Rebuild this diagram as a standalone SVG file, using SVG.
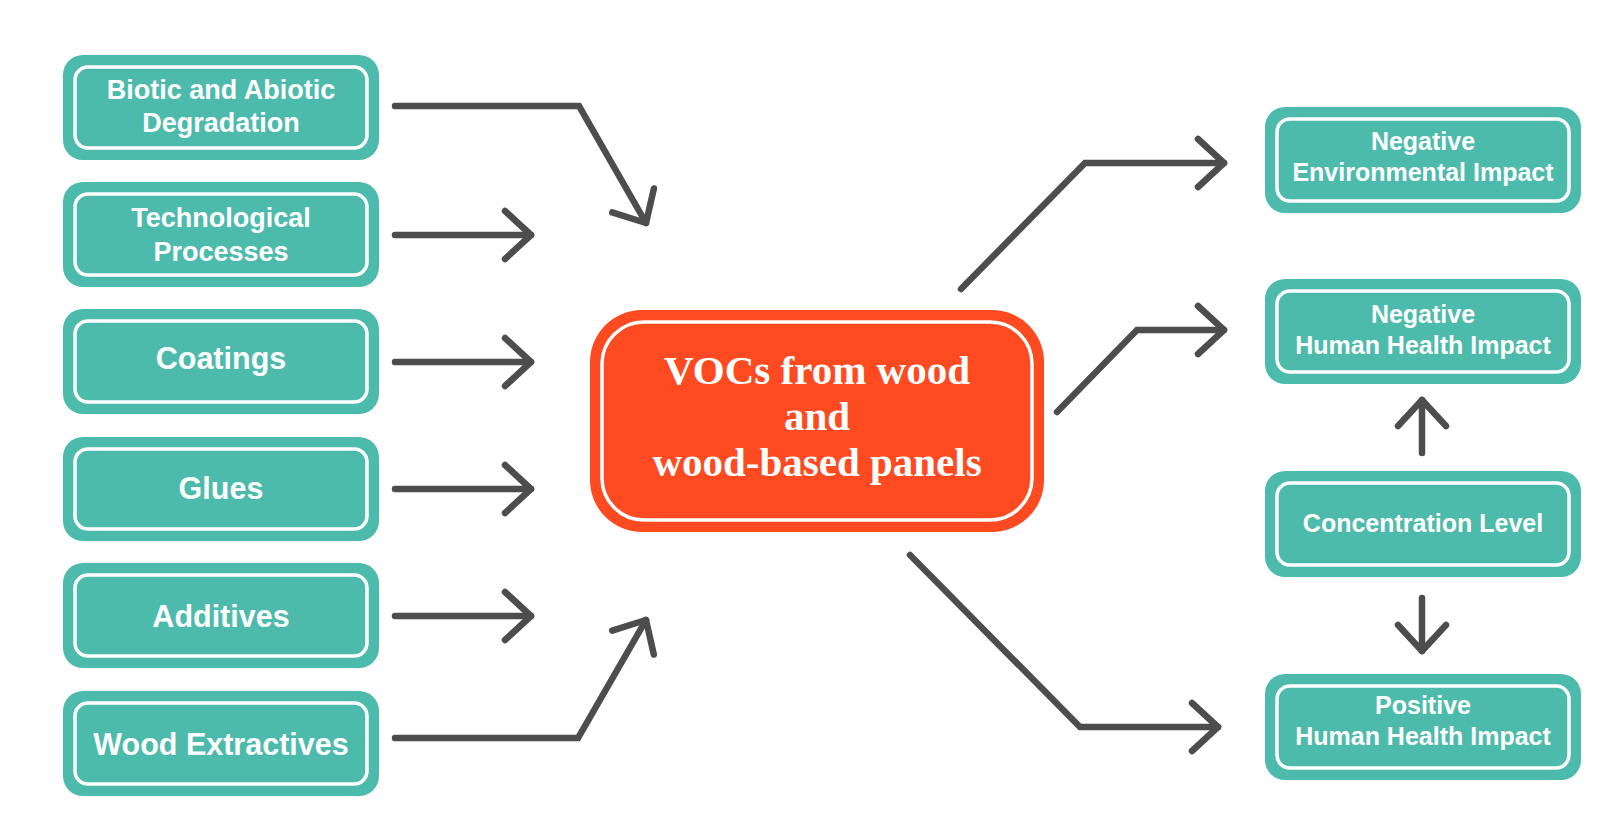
<svg xmlns="http://www.w3.org/2000/svg" width="1618" height="834" viewBox="0 0 1618 834">
  <style>
    .outer { fill: #4DBBAB; }
    .inner { fill: none; stroke: #FFFFFF; stroke-width: 3.5; }
    .center-outer { fill: #FD4A20; }
    .lbl { font-family: "Liberation Sans", Arial, sans-serif; font-weight: bold; fill: #FFFFFF; text-anchor: middle; }
    .s2 { font-size: 27px; }
    .s1 { font-size: 30.5px; }
    .sr { font-size: 25px; }
    .title { font-family: "Liberation Serif", "Times New Roman", serif; font-weight: bold; font-size: 41px; fill: #FFFFFF; text-anchor: middle; }
    .conn { fill: none; stroke: #4D4D4D; stroke-width: 6.5; stroke-linecap: round; stroke-linejoin: miter; marker-end: url(#ah); }
  </style>
  <defs>
    <marker id="ah" markerUnits="userSpaceOnUse" markerWidth="70" markerHeight="70" viewBox="-35 -35 70 70" refX="0" refY="0" orient="auto" overflow="visible">
      <path d="M-26,-24 L0,0 L-26,24" fill="none" stroke="#4D4D4D" stroke-width="6.5" stroke-linecap="round" stroke-linejoin="round"/>
    </marker>
  </defs>
  <rect width="1618" height="834" fill="#FFFFFF"/>

  <g id="connectors">
    <path class="conn" d="M395,106 L579,106 L646,223"/>
    <path class="conn" d="M395,235 L531,235"/>
    <path class="conn" d="M395,362 L531,362"/>
    <path class="conn" d="M395,489 L531,489"/>
    <path class="conn" d="M395,616 L531,616"/>
    <path class="conn" d="M395,738 L578,738 L646,620"/>
    <path class="conn" d="M961,289 L1085,163 L1224,163"/>
    <path class="conn" d="M1057,412 L1137,330 L1224,330"/>
    <path class="conn" d="M910,555 L1080,727 L1218,727"/>
    <path class="conn" d="M1422,453 L1422,400"/>
    <path class="conn" d="M1422,598 L1422,651"/>
  </g>

  <g id="biotic">
    <rect class="outer" x="63" y="55" width="316" height="105" rx="20"/>
    <rect class="inner" x="75" y="67" width="292" height="81" rx="13"/>
    <text class="lbl s2" x="221" y="99">Biotic and Abiotic</text>
    <text class="lbl s2" x="221" y="132">Degradation</text>
  </g>
  <g id="technological">
    <rect class="outer" x="63" y="182" width="316" height="105" rx="20"/>
    <rect class="inner" x="75" y="194" width="292" height="81" rx="13"/>
    <text class="lbl s2" x="221" y="227">Technological</text>
    <text class="lbl s2" x="221" y="261">Processes</text>
  </g>
  <g id="coatings">
    <rect class="outer" x="63" y="309" width="316" height="105" rx="20"/>
    <rect class="inner" x="75" y="321" width="292" height="81" rx="13"/>
    <text class="lbl s1" x="221" y="369">Coatings</text>
  </g>
  <g id="glues">
    <rect class="outer" x="63" y="437" width="316" height="104" rx="20"/>
    <rect class="inner" x="75" y="449" width="292" height="80" rx="13"/>
    <text class="lbl s1" x="221" y="499">Glues</text>
  </g>
  <g id="additives">
    <rect class="outer" x="63" y="563" width="316" height="105" rx="20"/>
    <rect class="inner" x="75" y="575" width="292" height="81" rx="13"/>
    <text class="lbl s1" x="221" y="627">Additives</text>
  </g>
  <g id="wood-extractives">
    <rect class="outer" x="63" y="691" width="316" height="105" rx="20"/>
    <rect class="inner" x="75" y="703" width="292" height="81" rx="13"/>
    <text class="lbl s1" x="221" y="755">Wood Extractives</text>
  </g>

  <g id="vocs">
    <rect class="center-outer" x="590" y="310" width="454" height="222" rx="52"/>
    <rect class="inner" x="602" y="322" width="430" height="198" rx="42" stroke-width="4"/>
    <text class="title" x="817" y="384">VOCs from wood</text>
    <text class="title" x="817" y="430">and</text>
    <text class="title" x="817" y="476">wood-based panels</text>
  </g>

  <g id="neg-env">
    <rect class="outer" x="1265" y="107" width="316" height="106" rx="20"/>
    <rect class="inner" x="1277" y="119" width="292" height="82" rx="13"/>
    <text class="lbl sr" x="1423" y="150">Negative</text>
    <text class="lbl sr" x="1423" y="181">Environmental Impact</text>
  </g>
  <g id="neg-health">
    <rect class="outer" x="1265" y="279" width="316" height="105" rx="20"/>
    <rect class="inner" x="1277" y="291" width="292" height="81" rx="13"/>
    <text class="lbl sr" x="1423" y="323">Negative</text>
    <text class="lbl sr" x="1423" y="354">Human Health Impact</text>
  </g>
  <g id="concentration">
    <rect class="outer" x="1265" y="471" width="316" height="106" rx="20"/>
    <rect class="inner" x="1277" y="483" width="292" height="82" rx="13"/>
    <text class="lbl sr" x="1423" y="532">Concentration Level</text>
  </g>
  <g id="pos-health">
    <rect class="outer" x="1265" y="674" width="316" height="106" rx="20"/>
    <rect class="inner" x="1277" y="686" width="292" height="82" rx="13"/>
    <text class="lbl sr" x="1423" y="714">Positive</text>
    <text class="lbl sr" x="1423" y="745">Human Health Impact</text>
  </g>
</svg>
